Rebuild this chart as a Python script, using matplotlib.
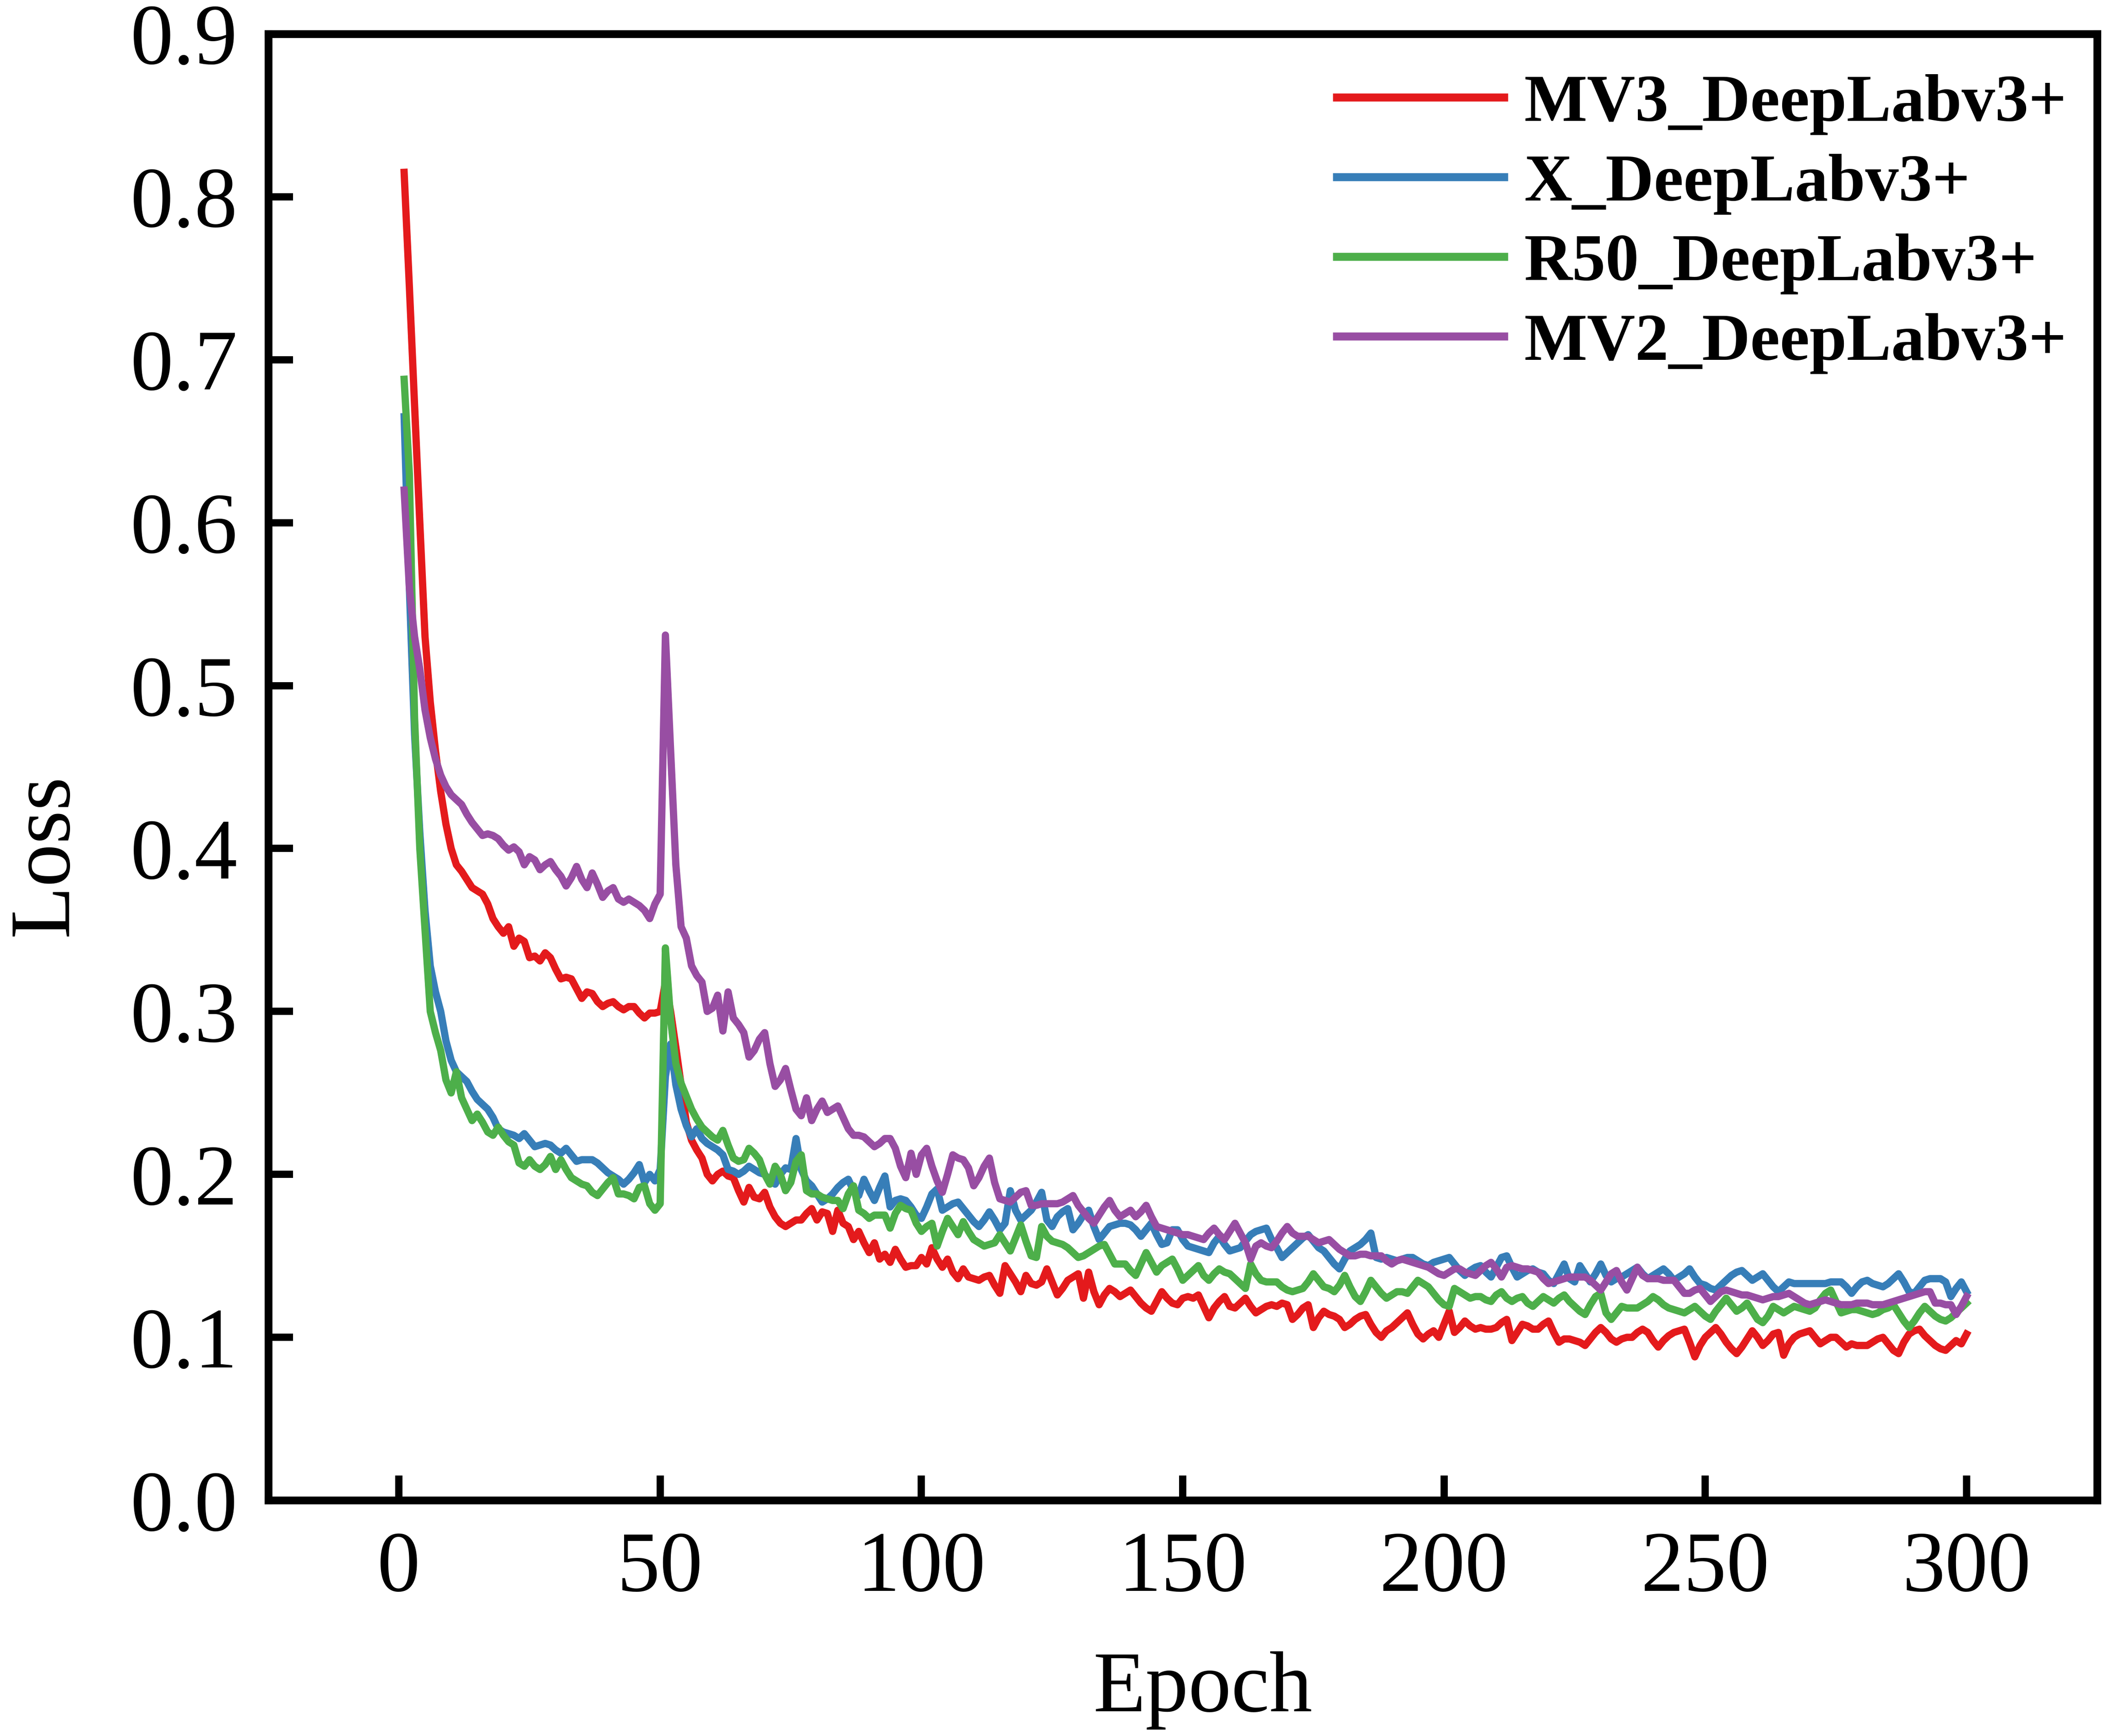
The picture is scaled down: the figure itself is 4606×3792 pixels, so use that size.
"""Training loss curves of four DeepLabv3+ backbones over 300 epochs."""

import matplotlib
matplotlib.use('Agg')
import matplotlib.pyplot as plt

plt.rcParams['font.family'] = ['Liberation Serif', 'DejaVu Serif']

epochs = list(range(1, 301))

# loss values, one per epoch
mv3_loss = [
    0.815, 0.745, 0.672, 0.600, 0.530, 0.490, 0.460, 0.435, 0.415, 0.400,
    0.390, 0.386, 0.381, 0.376, 0.374, 0.372, 0.366, 0.357, 0.352, 0.348,
    0.352, 0.340, 0.345, 0.343, 0.333, 0.334, 0.331, 0.336, 0.333, 0.326,
    0.320, 0.321, 0.320, 0.314, 0.308, 0.312, 0.311, 0.306, 0.303, 0.305,
    0.306, 0.303, 0.301, 0.303, 0.303, 0.299, 0.296, 0.299, 0.299, 0.300,
    0.318, 0.300, 0.278, 0.255, 0.232, 0.221, 0.215, 0.210, 0.200, 0.196,
    0.200, 0.202, 0.199, 0.198, 0.190, 0.183, 0.192, 0.186, 0.185, 0.189,
    0.180, 0.174, 0.170, 0.168, 0.170, 0.172, 0.172, 0.176, 0.179, 0.172,
    0.177, 0.176, 0.165, 0.178, 0.170, 0.168, 0.160, 0.165, 0.158, 0.152,
    0.158, 0.148, 0.151, 0.146, 0.154, 0.148, 0.143, 0.144, 0.144, 0.149,
    0.145, 0.155, 0.148, 0.143, 0.148, 0.140, 0.136, 0.142, 0.137, 0.136,
    0.135, 0.137, 0.138, 0.132, 0.127, 0.144, 0.139, 0.134, 0.128, 0.138,
    0.133, 0.132, 0.134, 0.142, 0.134, 0.126, 0.130, 0.135, 0.137, 0.139,
    0.124, 0.140, 0.128, 0.120, 0.126, 0.130, 0.128, 0.125, 0.127, 0.129,
    0.125, 0.121, 0.118, 0.116, 0.122, 0.128, 0.124, 0.121, 0.120, 0.124,
    0.125, 0.124, 0.126, 0.119, 0.112, 0.118, 0.122, 0.125, 0.119, 0.118,
    0.121, 0.124, 0.119, 0.115, 0.117, 0.119, 0.120, 0.119, 0.121, 0.120,
    0.111, 0.114, 0.118, 0.120, 0.106, 0.112, 0.116, 0.114, 0.113, 0.111,
    0.106, 0.108, 0.111, 0.113, 0.114, 0.108, 0.103, 0.100, 0.104, 0.106,
    0.109, 0.112, 0.115, 0.108, 0.102, 0.099, 0.102, 0.104, 0.100, 0.108,
    0.116, 0.103, 0.106, 0.110, 0.107, 0.105, 0.106, 0.105, 0.105, 0.106,
    0.109, 0.111, 0.098, 0.103, 0.108, 0.107, 0.105, 0.105, 0.108, 0.110,
    0.103, 0.097, 0.099, 0.099, 0.098, 0.097, 0.095, 0.099, 0.103, 0.106,
    0.103, 0.099, 0.097, 0.099, 0.100, 0.100, 0.103, 0.105, 0.103, 0.098,
    0.094, 0.098, 0.101, 0.103, 0.104, 0.105, 0.097, 0.088, 0.095, 0.100,
    0.103, 0.106, 0.102, 0.097, 0.093, 0.090, 0.094, 0.099, 0.104, 0.100,
    0.095, 0.098, 0.102, 0.103, 0.089, 0.096, 0.100, 0.102, 0.103, 0.104,
    0.100, 0.096, 0.098, 0.100, 0.100, 0.097, 0.094, 0.096, 0.095, 0.095,
    0.095, 0.097, 0.099, 0.100, 0.096, 0.092, 0.090, 0.097, 0.102, 0.104,
    0.105, 0.101, 0.098, 0.095, 0.093, 0.092, 0.095, 0.098, 0.096, 0.102,
]

x_loss = [
    0.665, 0.560, 0.470, 0.410, 0.362, 0.328, 0.312, 0.300, 0.282, 0.270,
    0.263, 0.260, 0.257, 0.251, 0.246, 0.243, 0.240, 0.235, 0.228, 0.226,
    0.225, 0.224, 0.222, 0.225, 0.221, 0.217, 0.218, 0.219, 0.218, 0.215,
    0.213, 0.216, 0.212, 0.208, 0.209, 0.209, 0.209, 0.207, 0.204, 0.201,
    0.199, 0.197, 0.194, 0.197, 0.201, 0.206, 0.195, 0.200, 0.196, 0.203,
    0.260, 0.280, 0.255, 0.240, 0.230, 0.223, 0.228, 0.222, 0.219, 0.217,
    0.215, 0.212, 0.203, 0.202, 0.200, 0.202, 0.205, 0.203, 0.201, 0.200,
    0.196, 0.194, 0.200, 0.204, 0.203, 0.222, 0.203, 0.196, 0.193, 0.188,
    0.183, 0.185, 0.188, 0.192, 0.195, 0.197, 0.190, 0.187, 0.197, 0.190,
    0.184, 0.192, 0.199, 0.180, 0.184, 0.185, 0.184, 0.180, 0.175, 0.173,
    0.180, 0.188, 0.191, 0.178, 0.180, 0.182, 0.183, 0.179, 0.175, 0.171,
    0.168, 0.172, 0.177, 0.172, 0.166, 0.170, 0.190, 0.178, 0.172, 0.175,
    0.178, 0.183, 0.189, 0.172, 0.168, 0.174, 0.177, 0.179, 0.166, 0.170,
    0.175, 0.178, 0.168, 0.160, 0.164, 0.168, 0.169, 0.170, 0.170, 0.169,
    0.166, 0.162, 0.166, 0.170, 0.163, 0.157, 0.158, 0.166, 0.166, 0.160,
    0.156, 0.155, 0.154, 0.153, 0.152, 0.158, 0.162, 0.157, 0.153, 0.154,
    0.155, 0.159, 0.163, 0.165, 0.166, 0.167, 0.160, 0.155, 0.149, 0.152,
    0.155, 0.158, 0.161, 0.163, 0.159, 0.155, 0.153, 0.149, 0.145, 0.142,
    0.148, 0.153, 0.155, 0.157, 0.160, 0.164, 0.149, 0.148, 0.149, 0.148,
    0.147, 0.148, 0.149, 0.149, 0.147, 0.145, 0.144, 0.146, 0.147, 0.148,
    0.149, 0.145, 0.141, 0.138, 0.141, 0.143, 0.144, 0.140, 0.137, 0.143,
    0.149, 0.150, 0.143, 0.137, 0.139, 0.141, 0.142, 0.140, 0.139, 0.135,
    0.133, 0.139, 0.145, 0.136, 0.134, 0.144, 0.139, 0.134, 0.139, 0.145,
    0.138, 0.134, 0.136, 0.137, 0.139, 0.141, 0.143, 0.139, 0.136, 0.138,
    0.140, 0.142, 0.139, 0.135, 0.137, 0.139, 0.142, 0.137, 0.133, 0.132,
    0.130, 0.129, 0.132, 0.135, 0.138, 0.140, 0.141, 0.138, 0.135, 0.137,
    0.139, 0.135, 0.131, 0.128, 0.131, 0.134, 0.133, 0.133, 0.133, 0.133,
    0.133, 0.133, 0.133, 0.134, 0.134, 0.134, 0.131, 0.127, 0.131, 0.134,
    0.135, 0.133, 0.132, 0.131, 0.133, 0.136, 0.139, 0.134, 0.128, 0.127,
    0.131, 0.135, 0.136, 0.136, 0.136, 0.134, 0.125, 0.130, 0.134, 0.128,
]

r50_loss = [
    0.688, 0.630, 0.480, 0.400, 0.350, 0.300, 0.287, 0.276, 0.258, 0.250,
    0.263, 0.247, 0.240, 0.233, 0.237, 0.232, 0.226, 0.224, 0.229, 0.224,
    0.220, 0.218, 0.207, 0.205, 0.209, 0.205, 0.203, 0.206, 0.211, 0.203,
    0.209, 0.203, 0.198, 0.196, 0.194, 0.193, 0.189, 0.187, 0.191, 0.195,
    0.198, 0.188, 0.188, 0.187, 0.185, 0.192, 0.193, 0.182, 0.178, 0.182,
    0.339, 0.295, 0.268, 0.256, 0.248, 0.240, 0.234, 0.229, 0.226, 0.223,
    0.221, 0.227, 0.218, 0.210, 0.208, 0.209, 0.216, 0.213, 0.209, 0.200,
    0.194, 0.205, 0.200, 0.190, 0.195, 0.208, 0.212, 0.190, 0.188, 0.188,
    0.186, 0.185, 0.184, 0.184, 0.179, 0.188, 0.193, 0.178, 0.176, 0.173,
    0.175, 0.175, 0.175, 0.167, 0.176, 0.181, 0.179, 0.178, 0.170, 0.165,
    0.168, 0.170, 0.156, 0.165, 0.173, 0.168, 0.163, 0.171, 0.165, 0.160,
    0.158, 0.156, 0.157, 0.158, 0.163, 0.158, 0.153, 0.161, 0.169, 0.159,
    0.150, 0.149, 0.168, 0.162, 0.159, 0.158, 0.157, 0.155, 0.152, 0.149,
    0.150, 0.152, 0.154, 0.156, 0.157, 0.151, 0.145, 0.145, 0.145, 0.141,
    0.138, 0.145, 0.152, 0.146, 0.140, 0.144, 0.146, 0.148, 0.142, 0.135,
    0.138, 0.141, 0.144, 0.138, 0.135, 0.139, 0.142, 0.140, 0.139, 0.136,
    0.133, 0.130, 0.145, 0.139, 0.135, 0.134, 0.134, 0.134, 0.131, 0.129,
    0.128, 0.129, 0.130, 0.134, 0.139, 0.135, 0.131, 0.130, 0.128, 0.132,
    0.138, 0.131, 0.125, 0.122, 0.128, 0.135, 0.131, 0.127, 0.124, 0.126,
    0.128, 0.128, 0.127, 0.131, 0.135, 0.133, 0.131, 0.127, 0.123, 0.120,
    0.119, 0.130, 0.128, 0.126, 0.124, 0.125, 0.125, 0.123, 0.122, 0.126,
    0.128, 0.124, 0.122, 0.124, 0.125, 0.121, 0.119, 0.122, 0.125, 0.123,
    0.121, 0.124, 0.126, 0.122, 0.119, 0.116, 0.114, 0.120, 0.125, 0.127,
    0.115, 0.111, 0.115, 0.119, 0.118, 0.118, 0.118, 0.120, 0.122, 0.125,
    0.123, 0.120, 0.118, 0.117, 0.116, 0.115, 0.117, 0.119, 0.116, 0.113,
    0.111, 0.116, 0.120, 0.124, 0.120, 0.116, 0.118, 0.121, 0.116, 0.111,
    0.109, 0.113, 0.119, 0.117, 0.115, 0.117, 0.119, 0.118, 0.117, 0.116,
    0.118, 0.123, 0.127, 0.129, 0.122, 0.115, 0.116, 0.117, 0.117, 0.116,
    0.115, 0.114, 0.115, 0.117, 0.118, 0.120, 0.115, 0.110, 0.106, 0.110,
    0.115, 0.119, 0.116, 0.113, 0.111, 0.110, 0.112, 0.115, 0.118, 0.121,
]

mv2_loss = [
    0.620, 0.560, 0.530, 0.510, 0.485, 0.468, 0.455, 0.445, 0.438, 0.433,
    0.430, 0.427, 0.421, 0.416, 0.412, 0.408, 0.409, 0.408, 0.406, 0.402,
    0.399, 0.401, 0.398, 0.390, 0.395, 0.393, 0.387, 0.390, 0.392, 0.387,
    0.383, 0.377, 0.382, 0.389, 0.381, 0.376, 0.385, 0.378, 0.370, 0.374,
    0.376, 0.369, 0.367, 0.369, 0.367, 0.365, 0.362, 0.357, 0.366, 0.372,
    0.531, 0.460, 0.390, 0.352, 0.345, 0.328, 0.322, 0.318, 0.300, 0.302,
    0.310, 0.288, 0.312, 0.296, 0.292, 0.287, 0.272, 0.276, 0.283, 0.287,
    0.268, 0.254, 0.258, 0.265, 0.252, 0.240, 0.236, 0.247, 0.233, 0.240,
    0.245, 0.238, 0.240, 0.242, 0.235, 0.228, 0.224, 0.224, 0.223, 0.220,
    0.217, 0.219, 0.222, 0.222, 0.216, 0.205, 0.198, 0.213, 0.200, 0.212,
    0.216, 0.205, 0.196, 0.189, 0.200, 0.212, 0.210, 0.209, 0.204, 0.193,
    0.198, 0.205, 0.210, 0.195, 0.185, 0.184, 0.183, 0.186, 0.189, 0.190,
    0.181, 0.181, 0.182, 0.182, 0.182, 0.182, 0.183, 0.185, 0.187, 0.181,
    0.177, 0.173, 0.170, 0.175, 0.180, 0.184, 0.178, 0.174, 0.176, 0.178,
    0.174, 0.177, 0.181, 0.174, 0.168, 0.167, 0.166, 0.165, 0.164, 0.163,
    0.163, 0.162, 0.161, 0.160, 0.164, 0.167, 0.163, 0.160, 0.165, 0.170,
    0.164, 0.158, 0.148, 0.156, 0.158, 0.156, 0.155, 0.159, 0.164, 0.168,
    0.164, 0.162, 0.162, 0.162, 0.160, 0.158, 0.159, 0.160, 0.157, 0.154,
    0.152, 0.150, 0.150, 0.151, 0.151, 0.150, 0.150, 0.150, 0.147, 0.145,
    0.147, 0.148, 0.147, 0.146, 0.145, 0.144, 0.143, 0.141, 0.139, 0.138,
    0.140, 0.142, 0.142, 0.140, 0.139, 0.138, 0.141, 0.144, 0.146, 0.142,
    0.137, 0.143, 0.144, 0.143, 0.142, 0.142, 0.141, 0.140, 0.136, 0.133,
    0.134, 0.135, 0.136, 0.137, 0.137, 0.137, 0.137, 0.135, 0.132, 0.129,
    0.134, 0.139, 0.141, 0.134, 0.129, 0.136, 0.143, 0.138, 0.136, 0.136,
    0.136, 0.135, 0.135, 0.135, 0.131, 0.127, 0.127, 0.129, 0.130, 0.126,
    0.122, 0.125, 0.128, 0.129, 0.128, 0.127, 0.126, 0.126, 0.125, 0.124,
    0.123, 0.124, 0.125, 0.125, 0.126, 0.127, 0.125, 0.123, 0.121, 0.120,
    0.121, 0.122, 0.123, 0.122, 0.121, 0.120, 0.120, 0.120, 0.121, 0.121,
    0.121, 0.120, 0.120, 0.120, 0.121, 0.122, 0.123, 0.124, 0.125, 0.126,
    0.127, 0.128, 0.128, 0.121, 0.121, 0.120, 0.120, 0.114, 0.119, 0.125,
]

labels = ['MV3_DeepLabv3+', 'X_DeepLabv3+', 'R50_DeepLabv3+', 'MV2_DeepLabv3+']
colors = ['#E41A1C', '#377EB8', '#4DAF4A', '#984EA3']
x_ticks = [0, 50, 100, 150, 200, 250, 300]
y_ticks = [0.0, 0.1, 0.2, 0.3, 0.4, 0.5, 0.6, 0.7, 0.8, 0.9]

fig = plt.figure(figsize=(4606 / 300, 3792 / 300), dpi=300)
ax = fig.add_axes([0.1272, 0.1358, 0.8672, 0.8447])

for series, label, color in zip([mv3_loss, x_loss, r50_loss, mv2_loss], labels, colors):
    ax.plot(epochs, series, color=color, linewidth=3.8, label=label)

ax.set_xlim(-25, 325)
ax.set_ylim(0.0, 0.9)
ax.set_xticks(x_ticks)
ax.set_yticks(y_ticks)
ax.set_yticklabels(['%.1f' % v for v in y_ticks])

for spine in ax.spines.values():
    spine.set_linewidth(4.1)
ax.tick_params(axis='both', direction='in', length=13, width=3.8,
               labelsize=45, pad=16, top=False, right=False)

ax.set_xlabel('Epoch', fontsize=45)
ax.set_ylabel('Loss', fontsize=45)
ax.xaxis.set_label_coords(0.511, -0.103)
ax.yaxis.set_label_coords(-0.1, 0.44)

leg = ax.legend(loc='upper left', bbox_to_anchor=(0.5844, 0.9725), frameon=False,
                prop={'family': 'Liberation Serif', 'weight': 'bold', 'size': 35},
                handlelength=2.5, handletextpad=0.3, labelspacing=0.28,
                borderpad=0, borderaxespad=0)
for line in leg.get_lines():
    line.set_linewidth(4.2)

fig.savefig('out.png', dpi=300)
